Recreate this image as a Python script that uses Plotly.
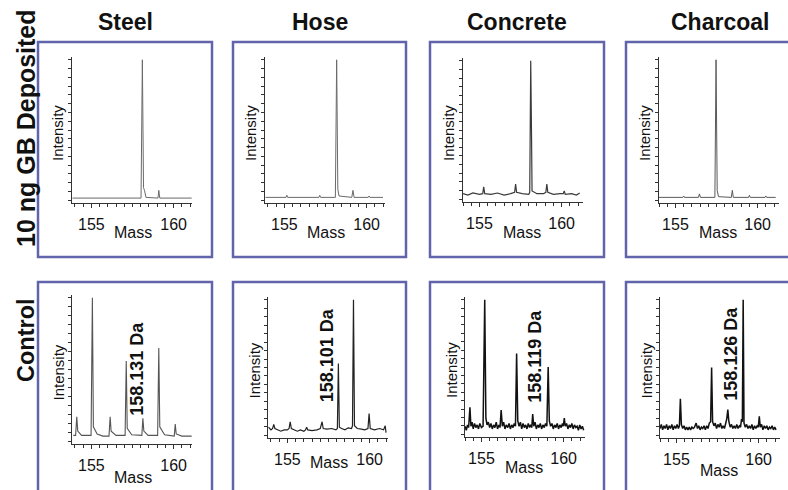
import plotly.graph_objects as go

# ---------------------------------------------------------------- data
MATERIALS = ["Steel", "Hose", "Concrete", "Charcoal"]
ROW_LABELS = ["10 ng GB Deposited", "Control"]
MASS_TICKS = [155, 160]
AXIS_TITLES = ("Mass", "Intensity")

# (mass, relative intensity) vertices of each spectrum
STEEL_GB = [(153.85, 0.015), (158.02, 0.015), (158.1, 1.0), (158.17, 0.09), (158.23, 0.07),
            (158.32, 0.02), (159.05, 0.015), (159.1, 0.07), (159.16, 0.015), (161.1, 0.015)]
HOSE_GB = [(153.85, 0.02), (155.1, 0.02), (155.15, 0.035), (155.2, 0.02), (157.1, 0.02),
           (157.15, 0.035), (157.2, 0.02), (158.1, 0.02), (158.18, 1.0), (158.25, 0.08),
           (158.32, 0.03), (159.1, 0.02), (159.17, 0.07), (159.24, 0.02), (160.1, 0.02),
           (160.15, 0.03), (160.2, 0.02), (161.0, 0.02)]
CONCRETE_GB = [(154.0, 0.04), (154.3, 0.03), (154.6, 0.045), (155.0, 0.035), (155.2, 0.04),
               (155.26, 0.09), (155.32, 0.04), (155.7, 0.035), (156.1, 0.045), (156.5, 0.03),
               (156.9, 0.04), (157.14, 0.05), (157.2, 0.11), (157.26, 0.05), (157.6, 0.04),
               (158.0, 0.035), (158.06, 0.05), (158.12, 1.0), (158.17, 0.45), (158.2, 0.06),
               (158.5, 0.04), (158.9, 0.04), (159.04, 0.05), (159.1, 0.11), (159.16, 0.05),
               (159.5, 0.035), (159.9, 0.04), (160.1, 0.04), (160.16, 0.06), (160.22, 0.035),
               (160.6, 0.04), (160.9, 0.03), (161.1, 0.045)]
CHARCOAL_GB = [(154.0, 0.02), (155.45, 0.02), (155.5, 0.03), (155.55, 0.02), (156.4, 0.02),
               (156.46, 0.045), (156.52, 0.02), (157.4, 0.02), (157.47, 1.0), (157.54, 0.07),
               (157.62, 0.025), (158.4, 0.02), (158.46, 0.07), (158.52, 0.02), (159.45, 0.02),
               (159.5, 0.035), (159.55, 0.02), (160.45, 0.02), (160.5, 0.03), (160.55, 0.02),
               (161.1, 0.02)]

STEEL_CONTROL = [(153.9, 0.04), (154.04, 0.04), (154.11, 0.17), (154.17, 0.07), (154.4, 0.04),
                 (154.98, 0.04), (155.06, 1.0), (155.12, 0.1), (155.35, 0.05), (155.7, 0.035),
                 (156.07, 0.035), (156.14, 0.17), (156.2, 0.07), (156.5, 0.04), (157.05, 0.04),
                 (157.12, 0.56), (157.18, 0.09), (157.45, 0.045), (158.07, 0.04), (158.131, 0.16),
                 (158.19, 0.07), (158.45, 0.04), (159.03, 0.04), (159.1, 0.65), (159.16, 0.1),
                 (159.45, 0.045), (160.04, 0.035), (160.1, 0.12), (160.16, 0.05), (160.5, 0.035),
                 (161.1, 0.035)]
HOSE_CONTROL = [(153.85, 0.06), (154.0, 0.04), (154.1, 0.05), (154.17, 0.08), (154.24, 0.05),
                (154.4, 0.04), (154.6, 0.03), (154.8, 0.04), (155.0, 0.04), (155.1, 0.05),
                (155.17, 0.10), (155.24, 0.05), (155.4, 0.04), (155.6, 0.03), (155.8, 0.04),
                (156.0, 0.03), (156.1, 0.04), (156.17, 0.06), (156.24, 0.04), (156.5, 0.035),
                (156.8, 0.04), (157.0, 0.05), (157.11, 0.10), (157.18, 0.05), (157.4, 0.045),
                (157.7, 0.05), (157.95, 0.04), (158.04, 0.05), (158.101, 0.53), (158.16, 0.06),
                (158.3, 0.05), (158.5, 0.04), (158.7, 0.055), (158.9, 0.05), (158.96, 0.07),
                (159.02, 1.0), (159.08, 0.07), (159.25, 0.05), (159.5, 0.045), (159.7, 0.04),
                (159.9, 0.05), (159.97, 0.16), (160.04, 0.05), (160.3, 0.04), (160.6, 0.05),
                (160.85, 0.04), (160.95, 0.07), (161.0, 0.02)]
CONCRETE_CONTROL = [
    (154.0, 0.06), (154.08, 0.03), (154.15, 0.07), (154.22, 0.05), (154.3, 0.20), (154.36, 0.06),
    (154.43, 0.09), (154.5, 0.04), (154.58, 0.08), (154.66, 0.05), (154.74, 0.07), (154.82, 0.04),
    (154.9, 0.08), (155.0, 0.05), (155.1, 0.06), (155.2, 1.0), (155.27, 0.12), (155.34, 0.07),
    (155.42, 0.09), (155.5, 0.05), (155.58, 0.08), (155.66, 0.04), (155.74, 0.07), (155.82, 0.05),
    (155.9, 0.09), (155.98, 0.04), (156.06, 0.07), (156.13, 0.05), (156.2, 0.18), (156.27, 0.06),
    (156.35, 0.09), (156.43, 0.04), (156.51, 0.07), (156.6, 0.05), (156.68, 0.08), (156.76, 0.04),
    (156.84, 0.07), (156.92, 0.05), (157.0, 0.08), (157.07, 0.06), (157.14, 0.60), (157.21, 0.1),
    (157.29, 0.06), (157.37, 0.09), (157.45, 0.04), (157.53, 0.08), (157.61, 0.05), (157.69, 0.07),
    (157.77, 0.04), (157.85, 0.08), (157.93, 0.05), (158.0, 0.07), (158.06, 0.05), (158.119, 0.15),
    (158.18, 0.06), (158.26, 0.09), (158.34, 0.04), (158.42, 0.07), (158.5, 0.05), (158.58, 0.08),
    (158.66, 0.04), (158.74, 0.07), (158.82, 0.05), (158.9, 0.08), (158.98, 0.06), (159.06, 0.50),
    (159.13, 0.1), (159.21, 0.06), (159.29, 0.08), (159.37, 0.04), (159.45, 0.07), (159.53, 0.05),
    (159.61, 0.08), (159.69, 0.04), (159.77, 0.07), (159.85, 0.05), (159.93, 0.08), (159.98, 0.06),
    (160.04, 0.12), (160.1, 0.06), (160.18, 0.08), (160.26, 0.04), (160.34, 0.07), (160.42, 0.05),
    (160.5, 0.08), (160.58, 0.04), (160.66, 0.07), (160.74, 0.05), (160.82, 0.06), (160.9, 0.03),
    (160.98, 0.07), (161.06, 0.04), (161.14, 0.06), (161.22, 0.03)]
CHARCOAL_CONTROL = [
    (154.0, 0.05), (154.08, 0.08), (154.16, 0.04), (154.24, 0.07), (154.32, 0.05), (154.4, 0.08),
    (154.48, 0.04), (154.56, 0.07), (154.64, 0.05), (154.72, 0.08), (154.8, 0.04), (154.88, 0.07),
    (154.96, 0.05), (155.04, 0.08), (155.12, 0.05), (155.18, 0.07), (155.24, 0.27), (155.3, 0.08),
    (155.38, 0.05), (155.46, 0.07), (155.54, 0.04), (155.62, 0.06), (155.7, 0.04), (155.78, 0.06),
    (155.86, 0.04), (155.94, 0.06), (156.02, 0.05), (156.1, 0.06), (156.2, 0.09), (156.28, 0.05),
    (156.36, 0.07), (156.44, 0.04), (156.52, 0.06), (156.6, 0.05), (156.68, 0.07), (156.76, 0.04),
    (156.84, 0.07), (156.92, 0.05), (157.0, 0.09), (157.08, 0.1), (157.14, 0.50), (157.2, 0.1),
    (157.28, 0.07), (157.36, 0.09), (157.44, 0.05), (157.52, 0.08), (157.6, 0.06), (157.68, 0.09),
    (157.76, 0.05), (157.84, 0.07), (157.92, 0.05), (158.0, 0.09), (158.06, 0.12), (158.126, 0.19),
    (158.19, 0.1), (158.27, 0.06), (158.35, 0.08), (158.43, 0.05), (158.51, 0.07), (158.59, 0.05),
    (158.67, 0.08), (158.75, 0.05), (158.83, 0.07), (158.9, 0.06), (158.96, 0.12), (159.01, 0.1),
    (159.06, 1.0), (159.11, 0.09), (159.19, 0.06), (159.27, 0.08), (159.35, 0.05), (159.43, 0.07),
    (159.51, 0.05), (159.59, 0.08), (159.67, 0.04), (159.75, 0.07), (159.83, 0.05), (159.91, 0.07),
    (159.98, 0.06), (160.04, 0.14), (160.1, 0.06), (160.18, 0.08), (160.26, 0.04), (160.34, 0.07),
    (160.42, 0.05), (160.5, 0.07), (160.58, 0.04), (160.66, 0.06), (160.74, 0.05), (160.82, 0.07),
    (160.9, 0.04), (160.98, 0.06), (161.06, 0.04)]

SPECTRA = [[STEEL_GB, HOSE_GB, CONCRETE_GB, CHARCOAL_GB],
           [STEEL_CONTROL, HOSE_CONTROL, CONCRETE_CONTROL, CHARCOAL_CONTROL]]

# accurate masses annotated on the control spectra (Da)
PEAK_LABEL_MASS = [158.131, 158.101, 158.119, 158.126]

# ---------------------------------------------------------------- layout (pixels)
W, H = 788, 490
BOX_X = [(38, 212), (233, 406), (430, 604), (626, 800)]
BOX_Y = [(42, 257), (282, 497)]
AXIS_LEFT = [[72, 265, 463, 659], [72, 268, 465, 660]]
AXIS_TOP = [[57, 57, 58, 57], [295, 297, 297, 297]]
AXIS_BOTTOM = [[203, 203, 202, 203], [444, 438, 437, 438]]
AXIS_WIDTH = 120
X_START = [153.82, 153.82, 154.0, 154.0]
X_SPAN = 7.3
MASS_OFFSET = [[29, 29, 30, 30], [33, 24, 30, 32]]
LABEL_CENTER_Y = [369, 355, 356, 354]
LABEL_XSHIFT = [-6, -11, 2, 3]
LINE_COLORS = [["#6a6a6a", "#6a6a6a", "#3a3a3a", "#5a5a5a"],
               ["#555555", "#222222", "#111111", "#111111"]]
LINE_WIDTHS = [[1.0, 1.0, 1.2, 1.0], [1.1, 1.2, 1.5, 1.5]]
ROW_Y = [128, 340]
ROW_SIZE = [25, 23.5]
TITLE_X = [125, 320, 517, 720]

FONT = "Liberation Sans, Arial, sans-serif"
BOX_COLOR = "#6164ab"
AXIS_COLOR = "#333333"


def px_x(px):
    return px / W


def px_y(py):
    return 1 - py / H


fig = go.Figure()
annotations = []
shapes = []

for r in range(2):
    for c in range(4):
        idx = r * 4 + c + 1
        s = "" if idx == 1 else str(idx)
        mass = [p[0] for p in SPECTRA[r][c]]
        inten = [p[1] for p in SPECTRA[r][c]]
        fig.add_trace(go.Scatter(
            x=mass, y=inten, mode="lines", xaxis="x" + s, yaxis="y" + s,
            line=dict(color=LINE_COLORS[r][c], width=LINE_WIDTHS[r][c]),
            hoverinfo="skip", showlegend=False))

        x0 = AXIS_LEFT[r][c]
        top, bot = AXIS_TOP[r][c], AXIS_BOTTOM[r][c]
        fig.layout["xaxis" + s] = dict(
            domain=[px_x(x0), px_x(x0 + AXIS_WIDTH)], anchor="y" + s,
            range=[X_START[c], X_START[c] + X_SPAN],
            showline=True, linecolor=AXIS_COLOR, linewidth=1.3,
            showgrid=False, zeroline=False,
            tickmode="array", tickvals=MASS_TICKS, ticktext=[str(t) for t in MASS_TICKS],
            ticks="outside", ticklen=4, tickcolor=AXIS_COLOR, tickwidth=1,
            ticklabelstandoff=3,
            tickfont=dict(family=FONT, size=16, color="#111111"),
            minor=dict(dtick=0.5, tick0=155, ticks="outside", ticklen=3,
                       tickcolor=AXIS_COLOR, tickwidth=1, showgrid=False),
            fixedrange=True)
        fig.layout["yaxis" + s] = dict(
            domain=[px_y(bot), px_y(top)], anchor="x" + s,
            range=[-0.02, 1.02],
            showline=True, linecolor=AXIS_COLOR, linewidth=1.3,
            showgrid=False, zeroline=False, showticklabels=False,
            tickmode="linear", tick0=0, dtick=0.0625,
            ticks="outside", ticklen=3, tickcolor=AXIS_COLOR, tickwidth=1,
            fixedrange=True)

        # axis titles
        annotations.append(dict(
            text=AXIS_TITLES[1], xref="paper", yref="paper",
            x=px_x(x0 - 14), y=px_y((top + bot) / 2 + 3),
            textangle=-90, showarrow=False, xanchor="center", yanchor="middle",
            font=dict(family=FONT, size=15, color="#111111")))
        annotations.append(dict(
            text=AXIS_TITLES[0], xref="x" + s, yref="paper",
            x=157.55 if c < 2 else 157.6, y=px_y(bot + MASS_OFFSET[r][c]),
            showarrow=False, xanchor="center", yanchor="middle",
            font=dict(family=FONT, size=16, color="#111111")))

        # panel frame
        bx0, bx1 = BOX_X[c]
        by0, by1 = BOX_Y[r]
        shapes.append(dict(
            type="rect", xref="paper", yref="paper",
            x0=px_x(bx0), x1=px_x(bx1), y0=px_y(by1), y1=px_y(by0),
            line=dict(color=BOX_COLOR, width=2.5), fillcolor="rgba(0,0,0,0)",
            layer="below"))

        if r == 1:
            annotations.append(dict(
                text="<b>%.3f Da</b>" % PEAK_LABEL_MASS[c],
                xref="x" + s, yref="paper",
                x=PEAK_LABEL_MASS[c], xshift=LABEL_XSHIFT[c],
                y=px_y(LABEL_CENTER_Y[c]),
                textangle=-90, showarrow=False, xanchor="center", yanchor="middle",
                font=dict(family=FONT, size=18, color="#111111")))

# column titles
for c, name in enumerate(MATERIALS):
    annotations.append(dict(
        text="<b>%s</b>" % name, xref="paper", yref="paper",
        x=px_x(TITLE_X[c]), y=px_y(22), showarrow=False,
        xanchor="center", yanchor="middle",
        font=dict(family=FONT, size=23, color="#111111")))

# row titles
for r, name in enumerate(ROW_LABELS):
    annotations.append(dict(
        text="<b>%s</b>" % name, xref="paper", yref="paper",
        x=px_x(26), y=px_y(ROW_Y[r]), textangle=-90, showarrow=False,
        xanchor="center", yanchor="middle",
        font=dict(family=FONT, size=ROW_SIZE[r], color="#111111")))

fig.update_layout(
    width=W, height=H, margin=dict(l=0, r=0, t=0, b=0),
    paper_bgcolor="white", plot_bgcolor="rgba(0,0,0,0)",
    annotations=annotations, shapes=shapes, showlegend=False)

fig.write_html("out.html", config={"displayModeBar": False})
